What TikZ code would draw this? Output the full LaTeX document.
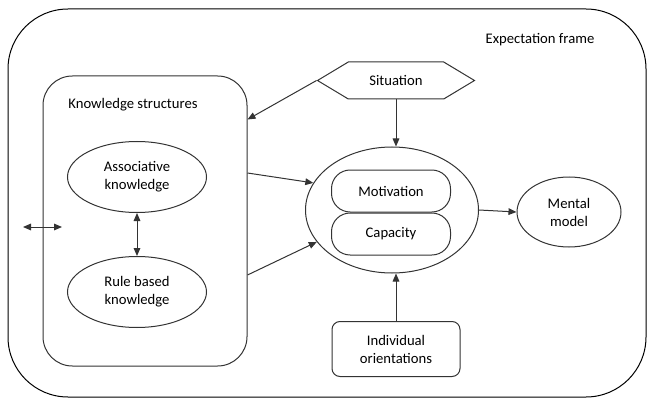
\documentclass[tikz,border=0pt]{standalone}
\usepackage{fontspec}
\setmainfont{Carlito}
\usetikzlibrary{shapes.geometric,shapes.symbols,arrows.meta,positioning,calc}

\begin{document}
\begin{tikzpicture}[x=0.75pt,y=-0.75pt,
  every node/.style={font=\fontsize{11}{13.5}\selectfont, align=center, inner sep=0pt},
  line/.style={draw=black!80, line width=0.75pt},
  oval/.style={line, ellipse},
  pill/.style={line, rounded corners=14pt, minimum width=89.25pt, minimum height=31.5pt},
  arr/.style={line, -{Triangle[length=6pt,width=5pt]}},
  darr/.style={line, {Triangle[length=6pt,width=5pt]}-{Triangle[length=6pt,width=5pt]}}]
\useasboundingbox (0,0) rectangle (649,406);

% frame
\draw[black, line width=0.75pt, rounded corners=45pt] (8,9) rectangle (646,397);
\node (frame) at (540,40) {Expectation frame};

% knowledge side
\node[line, rounded corners=22pt, minimum width=153pt, minimum height=217.5pt] (ks) at (145,221) {};
\node (kslabel) at (133,105) {Knowledge structures};
\node[oval, minimum width=104.25pt, minimum height=53.25pt] (assoc) at (137,177) {Associative\\knowledge};
\node[oval, minimum width=104.25pt, minimum height=53.25pt] (rule) at (137,292) {Rule based\\knowledge};
\coordinate (lt) at (23,227);
\coordinate (rt) at (62,227);

% centre
\node[line, signal, signal to=west and east, signal pointer angle=62, minimum width=117.75pt, minimum height=27.75pt] (sit) at (396,80.5) {Situation};
\node[oval, minimum width=129.75pt, minimum height=94.5pt] (big) at (392,210) {};
\node[pill] (motiv) at (391,191) {Motivation};
\node[pill, below=0pt of motiv] (capac) {Capacity};
\node[oval, minimum width=78pt, minimum height=52.5pt] (mental) at (569,212) {Mental\\model};
\node[line, rounded corners=6pt, minimum width=96pt, minimum height=41.25pt] (indiv) at (396,349) {Individual\\orientations};

\draw[darr] (lt) -- (rt);
\draw[darr] (assoc.south) -- (rule.north);
\draw[arr] (sit.west) -- ([yshift=-33pt]ks.north east);
\draw[arr] (sit.south) -- (sit.south |- big.north);
\draw[arr] ([yshift=36pt]ks.east) -- (big.161);
\draw[arr] ([yshift=-40.5pt]ks.east) -- (big.203);
\draw[arr] (big.east) -- (mental.west);
\draw[arr] (indiv.north) -- (indiv.north |- big.south);
\end{tikzpicture}
\end{document}
